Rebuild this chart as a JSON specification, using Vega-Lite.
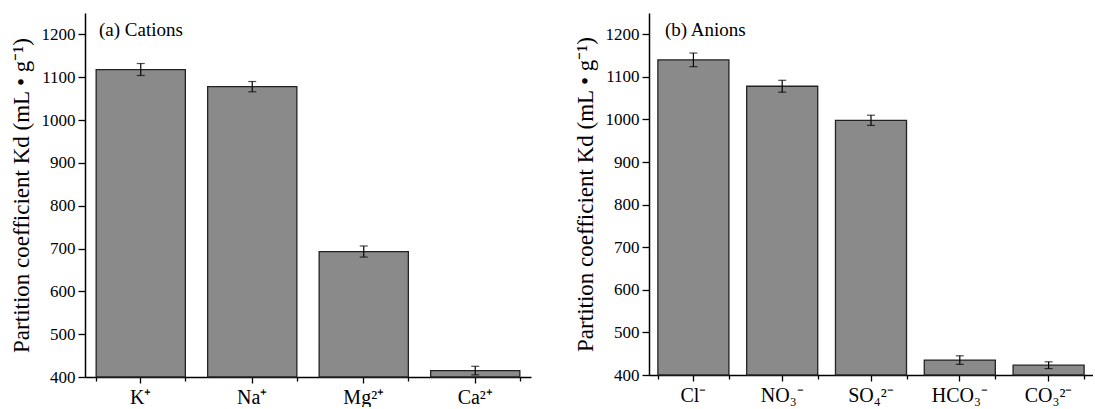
{
  "$schema": "https://vega.github.io/schema/vega-lite/v6.json",
  "background": "white",
  "padding": {"left": 10, "top": 13, "right": 0, "bottom": 0},
  "config": {
    "font": "Liberation Serif",
    "view": {"stroke": null},
    "concat": {"spacing": 43},
    "axis": {
      "domainColor": "black",
      "domainWidth": 1.5,
      "tickColor": "black",
      "tickWidth": 1.3,
      "labelColor": "black",
      "titleColor": "black",
      "labelFont": "Liberation Serif",
      "titleFont": "Liberation Serif",
      "grid": false
    },
    "title": {"font": "Liberation Serif", "fontWeight": "normal", "color": "black"}
  },
  "datasets": {
    "cations": [
      {"ion": "K⁺", "kd": 1118, "err": 14},
      {"ion": "Na⁺", "kd": 1078, "err": 12},
      {"ion": "Mg²⁺", "kd": 693, "err": 13},
      {"ion": "Ca²⁺", "kd": 415, "err": 10}
    ],
    "anions": [
      {"ion": "Cl⁻", "kd": 1140, "err": 16},
      {"ion": "NO₃⁻", "kd": 1078, "err": 14},
      {"ion": "SO₄²⁻", "kd": 998, "err": 12},
      {"ion": "HCO₃⁻", "kd": 435, "err": 10},
      {"ion": "CO₃²⁻", "kd": 423, "err": 8}
    ]
  },
  "hconcat": [
    {
      "width": 446,
      "height": 364,
      "data": {"name": "cations"},
      "title": {"text": "(a) Cations", "anchor": "start", "frame": "group", "dx": 14, "offset": -42, "baseline": "alphabetic", "fontSize": 19},
      "layer": [
        {
          "mark": {"type": "bar", "fill": "#8a8a8a", "stroke": "#222222", "strokeWidth": 1.3},
          "encoding": {
            "x": {"field": "ion", "type": "nominal", "sort": null,
              "scale": {"paddingInner": 0.2, "paddingOuter": 0.1},
              "axis": {"title": null, "labelAngle": 0, "labelFontSize": 20, "labelPadding": 4, "tickSize": 6}},
            "y": {"field": "kd", "type": "quantitative",
              "scale": {"domain": [400, 1250], "nice": false, "zero": false},
              "axis": {"title": "Partition coefficient Kd (mL • g⁻¹)", "titleFontSize": 23, "titleFontWeight": "normal", "titlePadding": 8,
                "values": [400, 450, 500, 550, 600, 650, 700, 750, 800, 850, 900, 950, 1000, 1050, 1100, 1150, 1200],
                "format": "d",
                "labelExpr": "datum.value % 100 == 0 ? datum.label : ''",
                "labelFontSize": 17, "labelPadding": 3,
                "tickSize": {"condition": {"test": "datum.value % 100 == 0", "value": 7}, "value": 4}}},
            "y2": {"datum": 400}
          }
        },
        {
          "mark": {"type": "errorbar", "color": "black", "thickness": 1.2, "ticks": {"size": 8, "color": "black"}},
          "encoding": {
            "x": {"field": "ion", "type": "nominal", "sort": null,
              "scale": {"paddingInner": 0.2, "paddingOuter": 0.1},
              "axis": {"title": null, "labels": false, "domain": false, "tickBand": "extent", "tickSize": 4, "orient": "bottom"}},
            "y": {"field": "kd", "type": "quantitative", "title": "Partition coefficient Kd (mL • g⁻¹)"},
            "yError": {"field": "err"}
          }
        }
      ],
      "resolve": {"scale": {"x": "independent"}, "axis": {"x": "independent"}}
    },
    {
      "width": 444,
      "height": 362,
      "data": {"name": "anions"},
      "title": {"text": "(b) Anions", "anchor": "start", "frame": "group", "dx": 16, "offset": -42, "baseline": "alphabetic", "fontSize": 19},
      "layer": [
        {
          "mark": {"type": "bar", "fill": "#8a8a8a", "stroke": "#222222", "strokeWidth": 1.3},
          "encoding": {
            "x": {"field": "ion", "type": "nominal", "sort": null,
              "scale": {"paddingInner": 0.2, "paddingOuter": 0.1},
              "axis": {"title": null, "labelAngle": 0, "labelFontSize": 20, "labelPadding": 4, "tickSize": 6}},
            "y": {"field": "kd", "type": "quantitative",
              "scale": {"domain": [400, 1250], "nice": false, "zero": false},
              "axis": {"title": "Partition coefficient Kd (mL • g⁻¹)", "titleFontSize": 23, "titleFontWeight": "normal", "titlePadding": 8,
                "values": [400, 450, 500, 550, 600, 650, 700, 750, 800, 850, 900, 950, 1000, 1050, 1100, 1150, 1200],
                "format": "d",
                "labelExpr": "datum.value % 100 == 0 ? datum.label : ''",
                "labelFontSize": 17, "labelPadding": 3,
                "tickSize": {"condition": {"test": "datum.value % 100 == 0", "value": 7}, "value": 4}}},
            "y2": {"datum": 400}
          }
        },
        {
          "mark": {"type": "errorbar", "color": "black", "thickness": 1.2, "ticks": {"size": 8, "color": "black"}},
          "encoding": {
            "x": {"field": "ion", "type": "nominal", "sort": null,
              "scale": {"paddingInner": 0.2, "paddingOuter": 0.1},
              "axis": {"title": null, "labels": false, "domain": false, "tickBand": "extent", "tickSize": 4, "orient": "bottom"}},
            "y": {"field": "kd", "type": "quantitative", "title": "Partition coefficient Kd (mL • g⁻¹)"},
            "yError": {"field": "err"}
          }
        }
      ],
      "resolve": {"scale": {"x": "independent"}, "axis": {"x": "independent"}}
    }
  ]
}
